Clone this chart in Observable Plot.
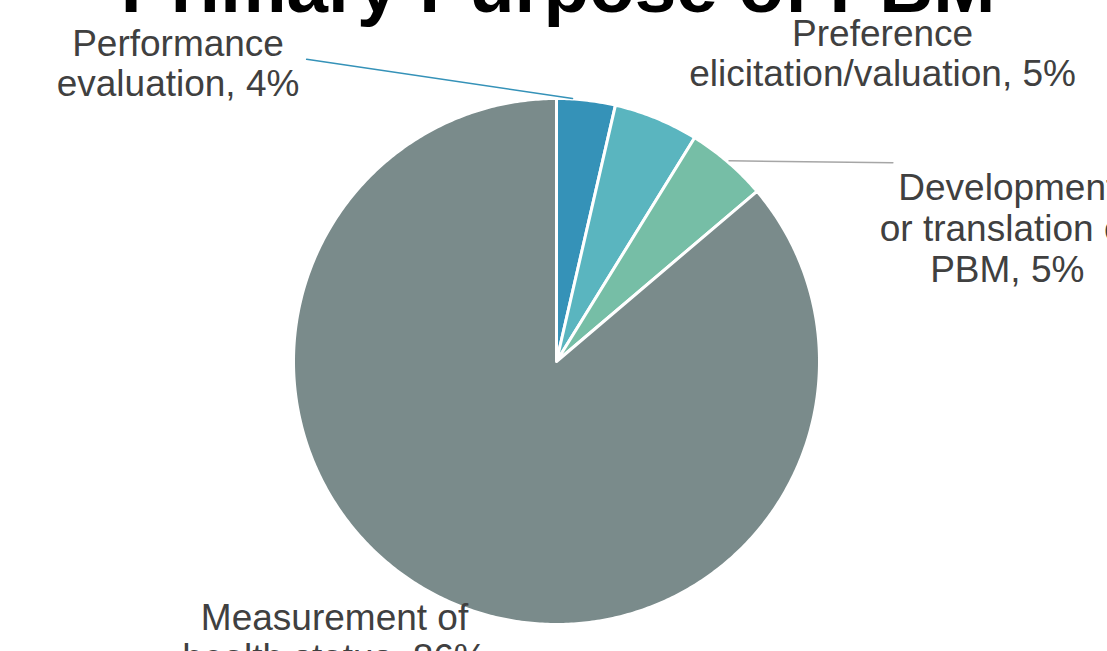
<!DOCTYPE html>
<html><head><meta charset="utf-8">
<script src="https://cdn.jsdelivr.net/npm/d3@7"></script>
<script src="https://cdn.jsdelivr.net/npm/@observablehq/plot@0.6"></script>
<style>body{margin:0;background:#fff;overflow:hidden}</style>
</head><body><div id="chart"></div>
<script>
// ---- data ----
const title = "Primary Purpose of PBM";
const categories = ["Performance evaluation", "Preference elicitation/valuation", "Development or translation of PBM", "Measurement of health status"];
const labelNames = ["Performance\nevaluation", "Preference\nelicitation/valuation", "Development\nor translation of\nPBM", "Measurement of\nhealth status"];
const values = [3.6, 5.2, 5.0, 86.2];
const colors = ["#3592b8", "#5ab5bf", "#76bea6", "#7a8b8b"];

// ---- layout (data units, pie radius = 1) ----
const labelPos = [[-1.439, 1.1355], [1.240, 1.1737], [1.714, 0.508], [-0.844, -1.0477]];
const leaders = [
  {cat: categories[0], x1: -0.950, y1: 1.149, x2: 0.061, y2: 1.0, color: "#3592b8"},
  {cat: categories[2], x1: 0.656, y1: 0.763, x2: 1.279, y2: 0.756, color: "#a6a6a6"}
];

const W = 1107, H = 651, R = 263, cx = 556, cy = 361;

const arcs = d3.pie().sort(null).value(d => d)(values);
const wedgeRows = [];
arcs.forEach((a, i) => {
  wedgeRows.push({cat: categories[i], x: 0, y: 0});
  const n = Math.max(4, Math.ceil((a.endAngle - a.startAngle) / 0.01));
  for (let k = 0; k <= n; k++) {
    const t = a.startAngle + (a.endAngle - a.startAngle) * k / n;
    wedgeRows.push({cat: categories[i], x: Math.sin(t), y: Math.cos(t)});
  }
});

const labels = categories.map((c, i) => ({
  cat: c,
  x: labelPos[i][0], y: labelPos[i][1],
  text: labelNames[i] + ", " + Math.round(values[i]) + "%"
}));

const leaderRows = leaders.flatMap(l => [{cat: l.cat, x: l.x1, y: l.y1, color: l.color}, {cat: l.cat, x: l.x2, y: l.y2, color: l.color}]);

const chart = Plot.plot({
  width: W, height: H,
  margin: 0,
  x: {domain: [-cx / R, (W - cx) / R], axis: null},
  y: {domain: [-(H - cy) / R, cy / R], axis: null},
  color: {domain: categories, range: colors},
  style: {background: "#fff", fontFamily: "'Liberation Sans', Arial, sans-serif"},
  marks: [
    Plot.line(wedgeRows, {x: "x", y: "y", z: "cat", fill: "cat", stroke: "#fff", strokeWidth: 3, strokeLinejoin: "round", curve: "linear-closed"}),
    Plot.line(leaderRows, {x: "x", y: "y", z: "cat", stroke: d => d.color, strokeWidth: 1.5}),
    Plot.text(labels, {x: "x", y: "y", text: "text", fontSize: 37, lineHeight: 1.1, fill: "#404040", lineAnchor: "middle", textAnchor: "middle"}),
    Plot.text([title], {text: d => d, frameAnchor: "top", lineAnchor: "bottom", dy: 11, dx: 4, fontSize: 74.6, fontWeight: "bold", fill: "#000"})
  ]
});
document.getElementById("chart").appendChild(chart);
</script>
</body></html>
